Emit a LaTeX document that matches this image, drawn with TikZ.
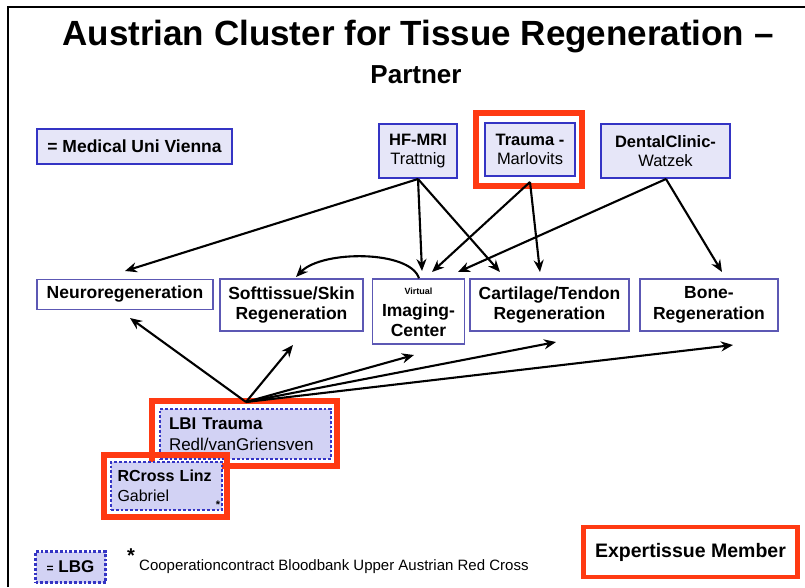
\documentclass[tikz,border=0pt]{standalone}
\usepackage{fontspec}
\setmainfont{Liberation Sans}
\usetikzlibrary{arrows.meta}
\definecolor{mublue}{HTML}{3434C4}
\definecolor{lav}{HTML}{E6E6F8}
\definecolor{lav2}{HTML}{D2D2F4}
\definecolor{rred}{HTML}{FF3A12}
\definecolor{rowblue}{HTML}{5C58B4}
\begin{document}
\begin{tikzpicture}[x=1pt,y=-1pt,
 mubox/.style={draw=mublue, line width=2.8pt, fill=lav, align=center, inner sep=0pt, font=\fontsize{16.5}{19}\selectfont},
 rowbox/.style={draw=rowblue, line width=1.4pt, fill=white, align=center, inner sep=0pt, font=\bfseries\fontsize{17.5}{20.5}\selectfont},
 redbox/.style={draw=rred, line width=5.5pt},
 lbgbox/.style={draw=mublue, line width=2.8pt, dotted, fill=lav2, inner sep=0pt, align=left, font=\fontsize{17}{21}\selectfont},
 arr/.style={-{Stealth[length=12pt,width=10pt]}, line width=2.1pt},
]
\useasboundingbox (0,0) rectangle (805,587);
\fill[white] (0,0) rectangle (805,587);
% frame
\draw[line width=2pt] (8,587) -- (8,7) -- (805,7);

% title
\node (title) at (418,37) {\bfseries\fontsize{35}{40}\selectfont Austrian Cluster for Tissue Regeneration --};
\node (partner) at (416,75) {\bfseries\fontsize{26}{30}\selectfont Partner};

% legend medical uni
\node[mubox, minimum width=195, minimum height=35, font=\bfseries\fontsize{17.5}{20}\selectfont] (muv) at (134.5,146.5) {= Medical Uni Vienna};

% top partners
\node[mubox, minimum width=78, minimum height=54] (hf) at (418,151) {\textbf{HF-MRI}\\Trattnig};
\node[redbox, minimum width=106, minimum height=73] (traumared) at (529,149.5) {};
\node[mubox, minimum width=90, minimum height=53] (trauma) at (530,149.5) {\textbf{Trauma -}\\Marlovits};
\node[mubox, minimum width=129, minimum height=54] (dental) at (665.5,151) {\textbf{DentalClinic-}\\Watzek};

% row
\node[rowbox, minimum width=176, minimum height=30] (neuro) at (125,294.5) {Neuroregeneration};
\node[rowbox, minimum width=143, minimum height=52] (soft) at (291.5,305) {Softtissue/Skin\\Regeneration};
\node[rowbox, minimum width=92, minimum height=65] (img) at (418.5,311.5) {};
\node (virt) at (418.5,291.5) {\bfseries\fontsize{9}{10}\selectfont Virtual};
\node[align=center, font=\bfseries\fontsize{17.5}{20.5}\selectfont] (imgtxt) at (418.5,320) {Imaging-\\Center};
\node[rowbox, minimum width=159, minimum height=52] (cart) at (549.5,305) {Cartilage/Tendon\\Regeneration};
\node[rowbox, minimum width=138, minimum height=52] (bone) at (709,305) {Bone-\\Regeneration};

% LBI
\node[redbox, minimum width=185, minimum height=65] (lbired) at (244.5,433.5) {};
\node[lbgbox, minimum width=171, minimum height=50, text width=153] (lbi) at (245.5,434) {\textbf{LBI Trauma}\\Redl/vanGriensven};
\node[redbox, minimum width=123, minimum height=62] (rcred) at (165.5,486) {};
\node[lbgbox, minimum width=111, minimum height=48, text width=98, font=\fontsize{16}{20}\selectfont] (rc) at (166.5,486) {\textbf{RCross Linz}\\Gabriel};
\node[font=\bfseries\fontsize{11}{11}\selectfont, inner sep=0pt] (rcstar) at (218,505) {*};

% bottom legend
\node[lbgbox, minimum width=70, minimum height=31, align=center, font=\bfseries\fontsize{17}{20}\selectfont] (lbg) at (70.5,567) {{\fontsize{12}{12}\selectfont =} LBG};
\node[font=\bfseries\fontsize{20}{20}\selectfont, inner sep=0pt] (star) at (131,556) {*};
\node[anchor=west, inner sep=0pt, font=\fontsize{15}{18}\selectfont] (coop) at (139,567) {Cooperationcontract Bloodbank Upper Austrian Red Cross};
\node[draw=rred, line width=4.5pt, minimum width=214, minimum height=50, font=\bfseries\fontsize{19.5}{22}\selectfont] (expert) at (690.5,552) {Expertissue Member};

% arrows from top
\coordinate (hfb) at (418,179);
\coordinate (trb) at (530,182);
\coordinate (deb) at (666,179);
\draw[arr] (hfb) -- (125,271);
\draw[arr] (hfb) -- (422,271);
\draw[arr] (hfb) -- (500,272);
\draw[arr] (trb) -- (432,272);
\draw[arr] (trb) -- (540,272);
\draw[arr] (deb) -- (458,272);
\draw[arr] (deb) -- (722,272);
% curve
\draw[arr] (img.north -| 419,0) .. controls (410,250) and (322,250) .. (296,277);

% arrows from LBI
\coordinate (lbit) at (246,402);
\draw[arr] (lbit) -- (130,318);
\draw[arr] (lbit) -- (293,345);
\draw[arr] (lbit) -- (414,355);
\draw[arr] (lbit) -- (556,342);
\draw[arr] (lbit) -- (733,345);
\end{tikzpicture}
\end{document}
